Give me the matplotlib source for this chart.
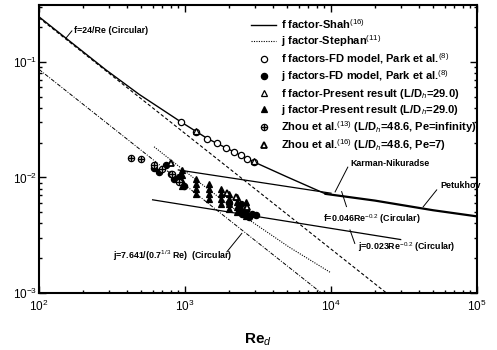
import matplotlib
matplotlib.use("Agg")
import matplotlib.pyplot as plt
from matplotlib.legend_handler import HandlerTuple
from matplotlib.ticker import LogLocator, NullFormatter

plt.rcParams["font.family"] = ["Liberation Sans", "DejaVu Sans"]
plt.rcParams["mathtext.fontset"] = "custom"
plt.rcParams["mathtext.rm"] = "Liberation Sans"
plt.rcParams["mathtext.it"] = "Liberation Sans:italic"
plt.rcParams["mathtext.bf"] = "Liberation Sans:bold"

# ── correlation lines ────────────────────────────────────────
re_f24 = [100, 24000]                 # f = 24/Re (circular)
f_f24 = [0.24, 0.001]

re_j7641 = [100, 8600]                # j = 7.641/(0.7^1/3 Re)
j_j7641 = [0.086, 0.001]

re_f046 = [900, 10000]                # f = 0.046 Re^-0.2
f_f046 = [0.0116, 0.0073]

re_j023 = [600, 30000]                # j = 0.023 Re^-0.2
j_j023 = [0.0064, 0.0029]

re_petukhov = [9180, 20000, 50000, 100000]
f_petukhov = [0.0072, 0.0063, 0.0052, 0.0046]

re_shah = [100, 286, 485, 934, 1422, 2170, 2970, 5000, 9180]
f_shah = [0.245, 0.0855, 0.0523, 0.0303, 0.0217, 0.0166, 0.0136, 0.0101, 0.0072]

re_stephan = [614, 1247, 2604, 5152, 9950]
j_stephan = [0.0184, 0.0091, 0.0045, 0.0025, 0.0015]

# ── data points ──────────────────────────────────────────────
re_park_f = [934, 1183, 1422, 1665, 1900, 2167, 2405, 2673, 2970]
f_park_f = [0.0303, 0.0248, 0.0217, 0.0200, 0.0180, 0.0166, 0.0155, 0.0143, 0.0136]

re_park_j = [614, 664, 737, 798, 841, 910, 984, 2000, 2344, 2405, 2472, 2604, 2742, 2890, 3048]
j_park_j = [0.0120, 0.0111, 0.0129, 0.0108, 0.0097, 0.0101, 0.0085, 0.0060,
            0.0053, 0.0059, 0.0048, 0.0052, 0.0045, 0.0048, 0.0047]

re_pres_f = [1183, 2970]
f_pres_f = [0.0250, 0.0138]

re_pres_j = [960, 960, 960, 960, 1183, 1183, 1183, 1183, 1459, 1459, 1459, 1459,
             1754, 1754, 1754, 1754, 2000, 2000, 2000, 2000, 2281, 2281, 2281, 2281,
             2604, 2604, 2604, 2604]
j_pres_j = [0.0115, 0.0104, 0.0094, 0.0085, 0.0097, 0.0088, 0.0080, 0.0072,
            0.0088, 0.0080, 0.0072, 0.0065, 0.0080, 0.0072, 0.0065, 0.0059,
            0.0072, 0.0065, 0.0059, 0.0053, 0.0068, 0.0061, 0.0055, 0.0050,
            0.0061, 0.0055, 0.0050, 0.0046]

re_zhou_inf = [424, 497, 614, 700, 820, 910]
j_zhou_inf = [0.0147, 0.0144, 0.0129, 0.0119, 0.0108, 0.0091]

re_zhou_7 = [798, 1950, 2224, 2673]
j_zhou_7 = [0.0132, 0.0074, 0.0068, 0.0055]

legend_labels = [
    r"f factor-Shah$^{(16)}$",
    r"j factor-Stephan$^{(11)}$",
    r"f factors-FD model, Park et al.$^{(8)}$",
    r"j factors-FD model, Park et al.$^{(8)}$",
    r"f factor-Present result (L/D$_h$=29.0)",
    r"j factor-Present result (L/D$_h$=29.0)",
    r"Zhou et al.$^{(13)}$ (L/D$_h$=48.6, Pe=infinity)",
    r"Zhou et al.$^{(16)}$ (L/D$_h$=48.6, Pe=7)",
]

fig = plt.figure(figsize=(4.97, 3.5), dpi=100)
ax = fig.add_axes([39 / 497, 57 / 350, 438 / 497, 288 / 350])
ax.set_xscale("log")
ax.set_yscale("log")

# lines
ax.plot(re_f24, f_f24, color="black", lw=0.8, ls=(0, (3, 2)))
ax.plot(re_j7641, j_j7641, color="black", lw=0.7, ls=(0, (4, 1.5, 1, 1.5)))
ax.plot(re_f046, f_f046, color="black", lw=0.9)
ax.plot(re_j023, j_j023, color="black", lw=0.9)
ax.plot(re_petukhov, f_petukhov, color="black", lw=1.6)
h_shah, = ax.plot(re_shah, f_shah, color="black", lw=1.0)
h_steph, = ax.plot(re_stephan, j_stephan, color="black", lw=0.8, ls=(0, (1, 1.2)))

ms = 4.5
mk = dict(ls="none", ms=ms, mec="black", mew=0.9)
h_pf, = ax.plot(re_park_f, f_park_f, marker="o", mfc="white", **mk)
h_pj, = ax.plot(re_park_j, j_park_j, marker="o", mfc="black", **mk)
h_rf, = ax.plot(re_pres_f, f_pres_f, marker="^", mfc="white", **mk)
h_rj, = ax.plot(re_pres_j, j_pres_j, marker="^", mfc="black", **mk)
h_z1, = ax.plot(re_zhou_inf, j_zhou_inf, marker="o", mfc="white", **mk)
h_z1b, = ax.plot(re_zhou_inf, j_zhou_inf, marker="+", ls="none", ms=ms, mec="black", mew=1.0)
h_z7, = ax.plot(re_zhou_7, j_zhou_7, marker="^", mfc="white", ls="none", ms=ms, mec="black", mew=1.3)

ax.set_xlim(100, 100000)
ax.set_ylim(0.001, 0.31)

ax.legend([h_shah, h_steph, h_pf, h_pj, h_rf, h_rj, (h_z1, h_z1b), h_z7], legend_labels,
          handler_map={tuple: HandlerTuple(ndivide=1)},
          loc="upper left", bbox_to_anchor=(0.475, 0.972), borderaxespad=0,
          frameon=False, handlelength=2.2, handletextpad=0.45,
          labelspacing=0.2, prop={"weight": "bold", "size": 8})

# annotations with leader lines (axes fraction)
ann = dict(fontsize=6.4, fontweight="bold", transform=ax.transAxes, va="center", ha="left")
lk = dict(color="black", lw=0.7, transform=ax.transAxes)
ax.text(0.080, 0.913, "f=24/Re (Circular)", **ann)
ax.plot([0.061, 0.075], [0.884, 0.910], **lk)
ax.text(0.710, 0.451, "Karman-Nikuradse", **ann)
ax.plot([0.705, 0.676], [0.437, 0.351], **lk)
ax.text(0.916, 0.375, "Petukhov", **ann)
ax.plot([0.908, 0.877], [0.358, 0.299], **lk)
ax.text(0.648, 0.257, r"f=0.046Re$^{-0.2}$ (Circular)", **ann)
ax.plot([0.691, 0.702], [0.352, 0.300], **lk)
ax.text(0.728, 0.160, r"j=0.023Re$^{-0.2}$ (Circular)", **ann)
ax.plot([0.710, 0.721], [0.219, 0.172], **lk)
ax.text(0.169, 0.128, r"j=7.641/(0.7$^{1/3}$ Re)  (Circular)", **ann)
ax.plot([0.463, 0.429], [0.207, 0.143], **lk)

ax.set_xlabel(r"Re$_d$", fontsize=11, fontweight="bold", labelpad=13)

ax.xaxis.set_minor_locator(LogLocator(base=10, subs=range(2, 10)))
ax.yaxis.set_minor_locator(LogLocator(base=10, subs=range(2, 10)))
ax.xaxis.set_minor_formatter(NullFormatter())
ax.yaxis.set_minor_formatter(NullFormatter())
ax.tick_params(which="both", direction="in", top=True, right=True, width=1.0)
ax.tick_params(which="major", length=5, labelsize=8.5)
ax.tick_params(axis="y", which="major", pad=1.5)
ax.tick_params(axis="x", which="major", pad=4)
ax.tick_params(which="minor", length=2.5)
for s in ax.spines.values():
    s.set_linewidth(1.5)

fig.savefig("out.png", dpi=100)
